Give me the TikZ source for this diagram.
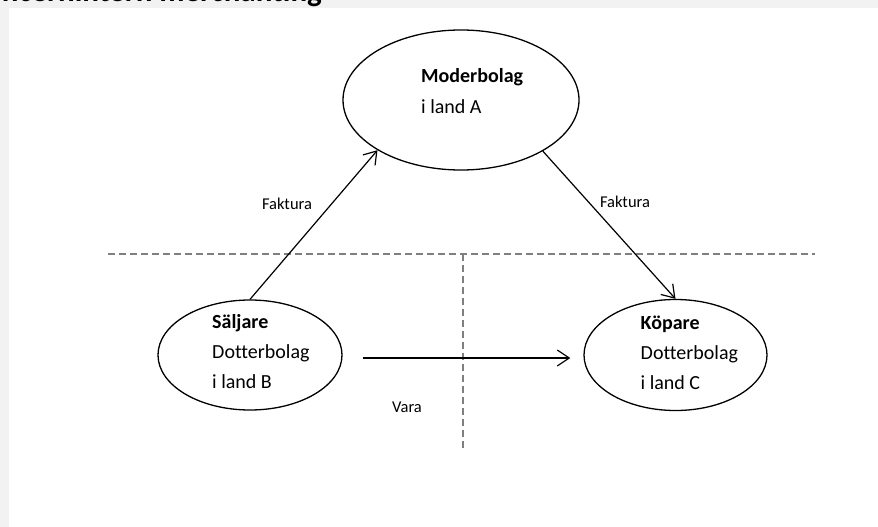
\documentclass[tikz,border=0pt]{standalone}
\usepackage{fontspec}
\setmainfont[Ligatures=NoCommon]{Carlito}
\usetikzlibrary{shapes.geometric,arrows.meta}
\definecolor{bggrey}{HTML}{F2F2F2}
\definecolor{dashgrey}{HTML}{7F7F7F}
\begin{document}
\begin{tikzpicture}[x=1pt,y=-1pt,
  ell/.style={draw=black, line width=1.3pt, ellipse, inner sep=0pt},
  lbl/.style={inner sep=0pt, font=\fontsize{20pt}{30pt}\selectfont, align=left, anchor=west},
  small/.style={inner sep=0pt, font=\fontsize{16.5pt}{19pt}\selectfont},
  conn/.style={draw=black, line width=1.2pt, -{Straight Barb[length=12pt,width=16pt,line width=1.2pt]}},
  border/.style={draw=dashgrey, line width=2pt, dash pattern=on 7pt off 4pt}]
\useasboundingbox (0,0) rectangle (878,527);
\fill[bggrey] (0,0) rectangle (878,527);
\fill[white] (9,8) rectangle (878,527);
\begin{scope}
\clip (0,0) rectangle (878,8);
\node[anchor=base east, inner sep=0pt, font=\fontsize{31pt}{36pt}\selectfont\bfseries] (title) at (322,2) {Koncernintern merchanting};
\end{scope}
% dashed borders
\coordinate (hl) at (108,254);
\coordinate (hr) at (815,254);
\coordinate (vt) at (463,254);
\coordinate (vb) at (463,451);
\draw[border] (hl) -- (hr);
\draw[border] (vt) -- (vb);
% ellipses
\node[ell, minimum width=236pt, minimum height=140pt] (mod) at (461,100) {};
\node[ell, minimum width=184pt, minimum height=110pt] (sal) at (250,355) {};
\node[ell, minimum width=183pt, minimum height=111pt] (kop) at (675.5,355) {};
% texts
\node[lbl, font=\fontsize{20pt}{31pt}\selectfont] (modtxt) at (421,91) {\textbf{Moderbolag}\\i land A};
\node[lbl] (saltxt) at (212,352) {\textbf{Säljare}\\Dotterbolag\\i land B};
\node[lbl] (koptxt) at (640.5,353) {\textbf{Köpare}\\Dotterbolag\\i land C};
% connectors
\draw[conn] (sal.north) -- (mod.211.5);
\draw[conn] (mod.-32.4) -- (kop.north);
\draw[conn] ([xshift=20pt,yshift=-3pt]sal.east) -- ([xshift=-13pt,yshift=-3pt]kop.west);
% labels
\node[small] (f1) at (287,204) {Faktura};
\node[small] (f2) at (625,202) {Faktura};
\node[small] (vara) at (407,407) {Vara};
\end{tikzpicture}
\end{document}
